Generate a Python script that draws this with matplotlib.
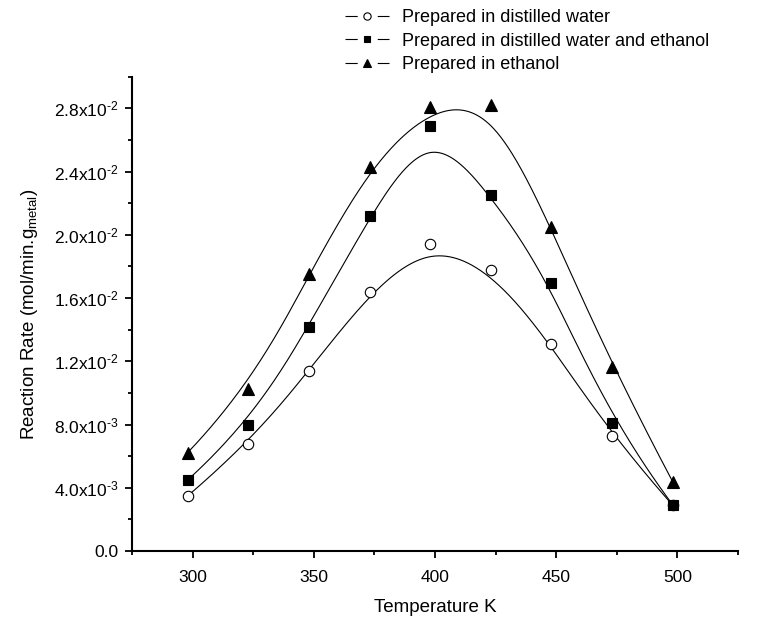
import numpy as np
import matplotlib
matplotlib.use('Agg')
import matplotlib.pyplot as plt
from matplotlib.ticker import MultipleLocator, FuncFormatter

plt.rcParams['font.family'] = ['Liberation Sans', 'DejaVu Sans']
plt.rcParams['mathtext.fontset'] = 'custom'
plt.rcParams['mathtext.rm'] = 'Liberation Sans'
plt.rcParams['mathtext.it'] = 'Liberation Sans'

# data
temperature = [298, 323, 348, 373, 398, 423, 448, 473, 498]
water = [0.00349, 0.00678, 0.01139, 0.01636, 0.0194, 0.01775, 0.0131, 0.00725, 0.0029]
water_ethanol = [0.0045, 0.00799, 0.01418, 0.0212, 0.02688, 0.0225, 0.01697, 0.00807, 0.00293]
ethanol = [0.00623, 0.01025, 0.0175, 0.0243, 0.02806, 0.02821, 0.02052, 0.01164, 0.00439]

labels = ['Prepared in distilled water',
          'Prepared in distilled water and ethanol',
          'Prepared in ethanol']


def bspline(xs, ys, n=400, k=3):
    # clamped cubic B-spline using the points as control points (Origin style)
    P = np.column_stack([xs, ys]).astype(float)
    m = len(P)
    knots = np.concatenate([np.zeros(k), np.arange(m - k + 1), np.full(k, m - k)]).astype(float)
    t = np.linspace(0, m - k, n)
    t[-1] -= 1e-9
    N = np.array([(knots[i] <= t) & (t < knots[i + 1]) for i in range(len(knots) - 1)], dtype=float)
    for d in range(1, k + 1):
        Nn = np.zeros((len(knots) - 1 - d, n))
        for i in range(len(knots) - 1 - d):
            a = knots[i + d] - knots[i]
            b = knots[i + d + 1] - knots[i + 1]
            left = (t - knots[i]) / a * N[i] if a > 0 else 0
            right = (knots[i + d + 1] - t) / b * N[i + 1] if b > 0 else 0
            Nn[i] = left + right
        N = Nn
    curve = N.T @ P
    return curve[:, 0], curve[:, 1]


fig = plt.figure(figsize=(7.78, 6.24), dpi=100)
ax = fig.add_axes([0.1697, 0.117, 0.779, 0.760])

styles = [dict(marker='o', mfc='white', ms=7.5),
          dict(marker='s', mfc='black', ms=6.8),
          dict(marker='^', mfc='black', ms=9)]

handles = []
for vals, lab, st in zip([water, water_ethanol, ethanol], labels, styles):
    cx, cy = bspline(temperature, vals)
    ax.plot(cx, cy, color='black', lw=0.8, zorder=2)
    ax.plot(temperature, vals, ls='none', marker=st['marker'], mfc=st['mfc'],
            mec='black', mew=0.8, ms=st['ms'], zorder=3)
    # legend proxy: line - gap - marker - gap - line
    l, = ax.plot([], [], color='black', lw=0.8, dashes=[11, 18])
    m, = ax.plot([], [], ls='none', marker=st['marker'], mfc=st['mfc'],
                 mec='black', mew=0.8, ms=st['ms'] * 0.7)
    handles.append((l, m))

ax.set_xlim(275, 525)
ax.set_ylim(0, 0.030)
ax.xaxis.set_major_locator(MultipleLocator(50))
ax.xaxis.set_minor_locator(MultipleLocator(25))
ax.yaxis.set_major_locator(MultipleLocator(0.004))
ax.yaxis.set_minor_locator(MultipleLocator(0.002))


def sci(v, pos):
    if abs(v) < 1e-12:
        return '0.0'
    e = int(np.floor(np.log10(abs(v)) + 1e-9))
    m = v / 10 ** e
    return r'%.1fx10$^{\text{%d}}$' % (m, e)


ax.yaxis.set_major_formatter(FuncFormatter(sci))

for s in ['top', 'right']:
    ax.spines[s].set_visible(False)
for s in ['left', 'bottom']:
    ax.spines[s].set_linewidth(1.5)

ax.tick_params(which='major', direction='out', length=5, width=1.3, labelsize=12.5, pad=5)
ax.tick_params(axis='x', which='major', pad=9)
ax.tick_params(which='minor', direction='out', length=3, width=1.3)

ax.set_xlabel('Temperature K', fontsize=13.5, labelpad=10)
ax.set_ylabel(r'Reaction Rate (mol/min.g$_{\mathrm{metal}}$)', fontsize=13.5, labelpad=10)

ax.legend(handles, labels, loc='upper left', bbox_to_anchor=(0.4434, 0.985),
          bbox_transform=fig.transFigure,
          frameon=False, fontsize=13, handlelength=2.46, handletextpad=0.7,
          labelspacing=0.35, borderpad=0, borderaxespad=0)

fig.savefig('out.png', dpi=100)
